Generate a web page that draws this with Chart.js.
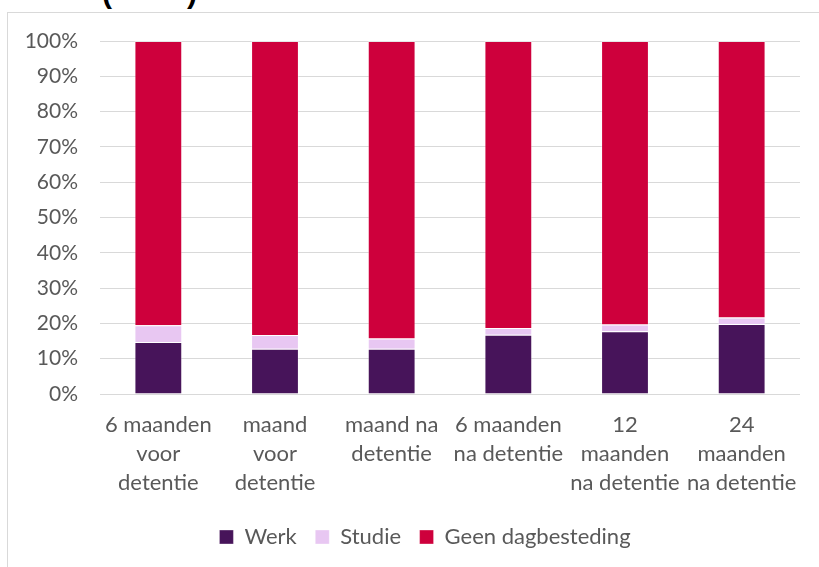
<!DOCTYPE html>
<html>
<head>
<meta charset="utf-8">
<script src="https://cdn.jsdelivr.net/npm/chart.js@4/dist/chart.umd.min.js"></script>
<style>
  html, body { margin: 0; padding: 0; background: #fff; overflow: hidden; }
  #wrap { position: relative; width: 819px; height: 567px; overflow: hidden; }
  #frame { position: absolute; left: 7px; top: 12px; width: 900px; height: 700px; border: 1px solid #d9d9d9; box-sizing: border-box; }
  #title { position: absolute; left: 102px; top: -24px; font: bold 30px "Liberation Sans", Arial, sans-serif; color: #000; white-space: pre; }
  #cv { position: absolute; left: 0; top: 0; }
</style>
</head>
<body>
<div id="wrap">
  <div id="frame"></div>
  <div id="title">(         )</div>
  <canvas id="cv" width="819" height="567"></canvas>
</div>
<script>
const categories = [
  ["6 maanden", "voor", "detentie"],
  ["maand", "voor", "detentie"],
  ["maand na", "detentie"],
  ["6 maanden", "na detentie"],
  ["12", "maanden", "na detentie"],
  ["24", "maanden", "na detentie"]
];
const werk = [14.7, 12.8, 12.8, 16.8, 17.8, 19.8];
const studie = [4.8, 3.9, 2.9, 1.9, 1.9, 1.9];
const geen = [80.5, 83.3, 84.3, 81.3, 80.3, 78.3];
const seriesNames = ["Werk", "Studie", "Geen dagbesteding"];
const yTicks = [0, 10, 20, 30, 40, 50, 60, 70, 80, 90, 100];

const FONT = "Lato, 'Open Sans', sans-serif";
const TXT = "#595959";

const ds = (label, data, color) => ({
  label, data,
  backgroundColor: color,
  borderColor: "rgba(255,255,255,0.35)",
  borderWidth: 1,
  barPercentage: 0.41,
  categoryPercentage: 1.0
});

const shiftLegend = {
  id: "shiftLegend",
  afterLayout(chart) {
    const lg = chart.legend;
    if (lg) { lg.left += 25; lg.right += 25; }
  }
};

new Chart(document.getElementById("cv"), {
  type: "bar",
  data: {
    labels: categories,
    datasets: [
      ds(seriesNames[0], werk, "#47145a"),
      ds(seriesNames[1], studie, "#e8c7f2"),
      ds(seriesNames[2], geen, "#ce003c")
    ]
  },
  plugins: [shiftLegend],
  options: {
    responsive: false,
    animation: false,
    devicePixelRatio: 1,
    layout: { padding: { top: 41, right: 19, bottom: 9, left: 0 } },
    plugins: {
      legend: {
        position: "bottom",
        labels: {
          boxWidth: 14, boxHeight: 14, padding: 18.5,
          color: TXT,
          font: { family: FONT, size: 22 }
        }
      },
      tooltip: { enabled: false },
      title: { display: false }
    },
    scales: {
      x: {
        stacked: true,
        afterFit: s => { s.height = 113.5; },
        grid: { display: false, drawTicks: false },
        border: { display: false },
        ticks: {
          color: TXT, padding: 16, maxRotation: 0, autoSkip: false,
          font: { family: FONT, size: 22, lineHeight: 1.32 }
        }
      },
      y: {
        stacked: true,
        min: 0, max: 100,
        afterFit: s => { s.width = 100; },
        afterBuildTicks: s => { s.ticks = yTicks.map(v => ({ value: v })); },
        grid: { color: "#d9d9d9", lineWidth: 1, drawTicks: false },
        border: { display: false },
        ticks: {
          color: TXT, padding: 22,
          font: { family: FONT, size: 21 },
          callback: v => v + "%"
        }
      }
    }
  }
});
</script>
</body>
</html>
